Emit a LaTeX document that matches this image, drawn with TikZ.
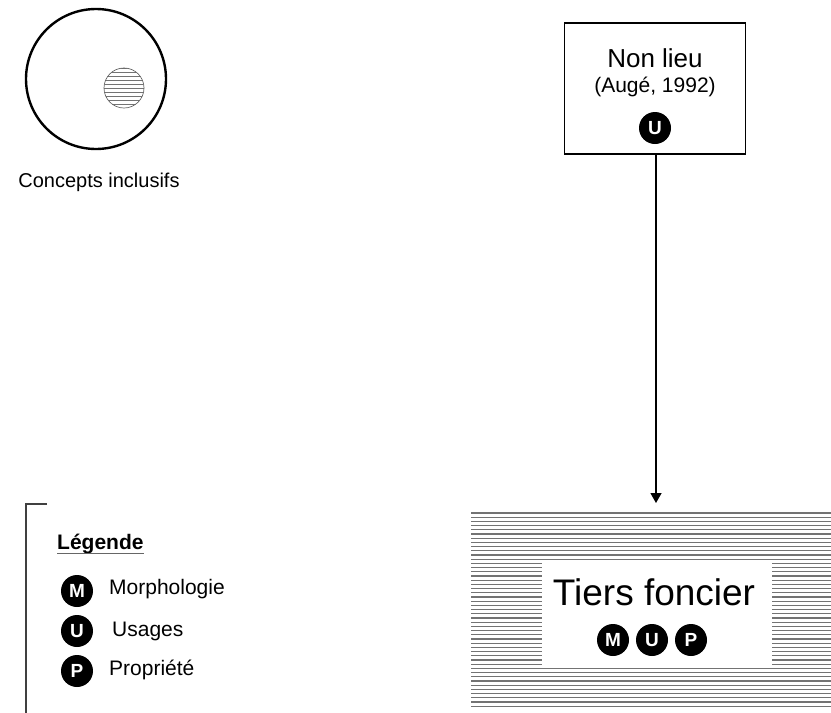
\documentclass[tikz,border=0pt]{standalone}
\usepackage{fontspec}
\setmainfont{Liberation Sans}
\usetikzlibrary{arrows.meta}
\usetikzlibrary{positioning}

\begin{document}
\begin{tikzpicture}[
	x = 1pt, y = -1pt,
	badge/.style = {
	  circle, fill = black, text = white,
	  font = \fontsize{19}{19}\selectfont\bfseries,
	  minimum size = 32pt,
	  inner sep = 0pt,
	  outer sep = 0pt,
	},
	hatch/.style = {black!55, line width = 1.1pt},
	label/.style = {inner sep = 0pt, font = \fontsize{#1}{#1}\selectfont},
	label/.default = 21,
	frame/.style = {draw, line width = 1.3pt, inner sep = 0pt},
  ]
  \useasboundingbox (0,0) rectangle (831,713);

  % concept circle with its hatched inner concept
  \node[frame, circle, line width = 2.4pt, minimum size = 140pt] (concept) at (96,79) {};
  \begin{scope}
	\clip (124,88) circle (20);
	\foreach \y in {68,72,...,108} {
	  \draw[hatch, line width = 0.9pt] (100,\y) -- (148,\y);
	}
  \end{scope}
  \node[circle, draw = black!60, line width = 0.7pt, minimum size = 40pt, inner sep = 0pt]
	(inner) at (124,88) {};
  \node[label = 20] (conceptlbl) at (99,182) {Concepts inclusifs};

  % non lieu
  \node[frame, minimum width = 181pt, minimum height = 131pt] (nonlieu) at (655,88.5) {};
  \node[label = 26] (nllbl) at (655,58) {Non lieu};
  \node[label = 21] (nlref) at (655,87) {(Augé, 1992)};
  \node[badge] (nlU) at (655,128) {U};

  % tiers foncier
  \foreach \y in {513,517.2,...,709.5} {
	\draw[hatch] (471,\y) -- (831,\y);
  }
  \node[fill = white, minimum width = 230pt, minimum height = 102pt, inner sep = 0pt]
	(tiers) at (657,614) {};
  \node[label = 37] (tierslbl) at (654,592) {Tiers foncier};
  \node[badge] (tU) at (652,640) {U};
  \node[badge, left = 7pt of tU] (tM) {M};
  \node[badge, right = 7pt of tU] (tP) {P};

  \coordinate (tip) at (656,503);
  \draw[line width = 1.3pt, -{Triangle[width = 11pt, length = 10pt]}]
	(nonlieu.south -| tip) -- (tip);

  % legende
  \draw[black!75, line width = 1.3pt] (47,504) -- (26,504) -- (26,713);
  \node[label, font = \fontsize{21}{21}\selectfont\bfseries, anchor = base west]
	(legtitle) at (57,549) {Légende};
  \draw[black!60, line width = 1.6pt] (57,553.5) -- (144,553.5);
  \node[badge] (lM) at (77,591) {M};
  \node[badge] (lU) at (77,631) {U};
  \node[badge] (lP) at (77,671) {P};
  \node[label, anchor = west] (lMtxt) at (109,589) {Morphologie};
  \node[label, anchor = west] (lUtxt) at (112,631) {Usages};
  \node[label, anchor = west] (lPtxt) at (109,670) {Propriété};
\end{tikzpicture}
\end{document}
